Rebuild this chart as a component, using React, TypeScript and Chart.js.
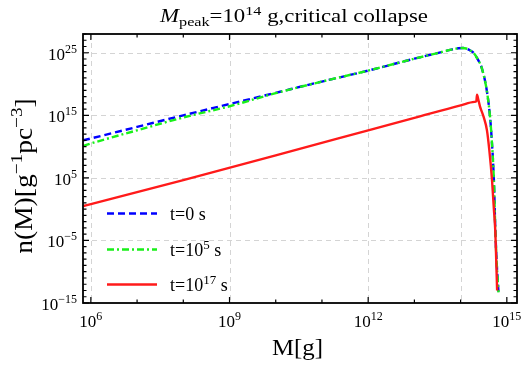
import React, { useEffect, useRef } from "react";
import { Chart, registerables } from "chart.js";

Chart.register(...registerables);

// log10(M[g]) sample positions and log10(n(M)) values
const massExpEarly = [5.83, 6, 7, 8, 9, 10, 11, 12, 13, 13.5, 13.8, 13.95, 14.05, 14.12, 14.2, 14.28, 14.36, 14.46, 14.57, 14.64, 14.67, 14.72, 14.75, 14.78, 14.82];
const nExpT0 = [11.0, 11.3, 13.15, 15.0, 16.8, 18.6, 20.4, 22.15, 24.05, 24.95, 25.5, 25.72, 25.76, 25.68, 25.4, 25.0, 24.1, 22.5, 18.8, 14.5, 11.5, 4.6, -3.0, -8.5, -13.3];
const nExpT5 = [10.1, 10.5, 12.6, 14.66, 16.45, 18.55, 20.4, 22.15, 24.05, 24.95, 25.5, 25.72, 25.76, 25.68, 25.4, 25.0, 24.1, 22.5, 18.8, 14.5, 11.5, 4.6, -3.0, -8.5, -13.3];
const massExpLate = [5.84, 6, 8, 10, 12, 13, 14, 14.3, 14.34, 14.355, 14.38, 14.42, 14.5, 14.57, 14.62, 14.68, 14.72, 14.75, 14.77, 14.79];
const nExpT17 = [0.5, 0.8, 4.65, 8.6, 12.6, 14.6, 16.6, 17.15, 17.25, 18.3, 17.6, 16.4, 14.7, 12.6, 9.5, 4.6, 0.0, -3.4, -8.0, -13.0];

const seriesLabels = ["0", "5", "17"]; // exponents of t in legend
const xTickExps = [6, 9, 12, 15];
const yTickExps = [-15, -5, 5, 15, 25];
const xGridExps = [6, 9, 12, 14];
const yGridExps = [-5, 5, 15, 25];

const X_MIN_EXP = 5.83;
const X_MAX_EXP = 15.22;
const Y_MIN_EXP = -15;
const Y_MAX_EXP = 28;

const SERIF = "'Liberation Serif', 'DejaVu Serif', serif";

type Part = { t: string; sup?: boolean; sub?: boolean; italic?: boolean };

function drawParts(
  ctx: CanvasRenderingContext2D,
  parts: Part[],
  x: number,
  y: number,
  align: "left" | "center" | "right",
  size: number,
  small: number,
  supRaise: number,
  subDrop: number,
  sx: number = 1
) {
  const fontFor = (p: Part) =>
    `${p.italic ? "italic " : ""}${p.sup || p.sub ? small : size}px ${SERIF}`;
  let total = 0;
  const widths = parts.map((p) => {
    ctx.font = fontFor(p);
    const w = ctx.measureText(p.t).width;
    total += w;
    return w;
  });
  ctx.save();
  ctx.translate(x, y);
  ctx.scale(sx, 1);
  let cx = align === "left" ? 0 : align === "center" ? -total / 2 : -total;
  ctx.textAlign = "left";
  ctx.textBaseline = "alphabetic";
  parts.forEach((p, i) => {
    ctx.font = fontFor(p);
    const dy = p.sup ? -supRaise : p.sub ? subDrop : 0;
    ctx.fillText(p.t, cx, dy);
    cx += widths[i];
  });
  ctx.restore();
}

const decoPlugin = {
  id: "deco",
  beforeDatasetsDraw(chart: any) {
    const { ctx, chartArea: a, scales } = chart;
    const xs = scales.x;
    const ys = scales.y;
    ctx.save();
    ctx.strokeStyle = "#d4d4d4";
    ctx.lineWidth = 1;
    ctx.setLineDash([5, 4]);
    xGridExps.forEach((e) => {
      const px = Math.round(xs.getPixelForValue(Math.pow(10, e))) + 0.5;
      ctx.beginPath();
      ctx.moveTo(px, a.top);
      ctx.lineTo(px, a.bottom);
      ctx.stroke();
    });
    yGridExps.forEach((e) => {
      const py = Math.round(ys.getPixelForValue(Math.pow(10, e))) + 0.5;
      ctx.beginPath();
      ctx.moveTo(a.left, py);
      ctx.lineTo(a.right, py);
      ctx.stroke();
    });
    ctx.restore();
  },
  afterDatasetsDraw(chart: any) {
    const { ctx, chartArea: a, scales } = chart;
    const xs = scales.x;
    const ys = scales.y;
    ctx.save();
    ctx.setLineDash([]);
    ctx.strokeStyle = "#000";
    // ticks
    ctx.lineWidth = 1.2;
    for (let e = 6; e <= 15; e++) {
      const px = xs.getPixelForValue(Math.pow(10, e));
      const len = xTickExps.includes(e) ? 6 : 3.5;
      ctx.beginPath();
      ctx.moveTo(px, a.bottom);
      ctx.lineTo(px, a.bottom - len);
      ctx.moveTo(px, a.top);
      ctx.lineTo(px, a.top + len);
      ctx.stroke();
    }
    for (let e = Y_MIN_EXP; e <= Y_MAX_EXP; e++) {
      const py = ys.getPixelForValue(Math.pow(10, e));
      const len = yTickExps.includes(e) ? 6 : 3.5;
      ctx.beginPath();
      ctx.moveTo(a.left, py);
      ctx.lineTo(a.left + len, py);
      ctx.moveTo(a.right, py);
      ctx.lineTo(a.right - len, py);
      ctx.stroke();
    }
    // frame
    ctx.lineWidth = 1.8;
    ctx.strokeRect(a.left, a.top, a.right - a.left, a.bottom - a.top);

    ctx.fillStyle = "#000";
    // x tick labels
    xTickExps.forEach((e) => {
      const px = xs.getPixelForValue(Math.pow(10, e));
      drawParts(ctx, [{ t: "10" }, { t: String(e), sup: true }], px, a.bottom + 24, "center", 17, 12, 7, 0);
    });
    // y tick labels
    yTickExps.forEach((e) => {
      const py = ys.getPixelForValue(Math.pow(10, e));
      const s = e < 0 ? "\u2212" + String(-e) : String(e);
      drawParts(ctx, [{ t: "10" }, { t: s, sup: true }], a.left - 6, py + 7, "right", 17, 12, 7, 0);
    });

    // title
    drawParts(
      ctx,
      [
        { t: "M", italic: true },
        { t: "peak", sub: true },
        { t: "=10" },
        { t: "14", sup: true },
        { t: " g,critical collapse" },
      ],
      294,
      22,
      "center",
      19,
      13.5,
      7,
      4,
      1.2
    );

    // x axis title
    drawParts(ctx, [{ t: "M[g]" }], 297.5, 355, "center", 23, 16, 9, 0, 1.08);

    // y axis title
    ctx.save();
    ctx.translate(32, 176);
    ctx.rotate(-Math.PI / 2);
    drawParts(
      ctx,
      [
        { t: "n(M)[g" },
        { t: "\u22121", sup: true },
        { t: "pc" },
        { t: "\u22123", sup: true },
        { t: "]" },
      ],
      0,
      0,
      "center",
      25,
      17.5,
      10,
      0,
      1.1
    );
    ctx.restore();

    // legend
    const rows = [213.5, 249.5, 284.5];
    chart.data.datasets.forEach((ds: any, i: number) => {
      const y = rows[i];
      ctx.save();
      ctx.strokeStyle = ds.borderColor;
      ctx.lineWidth = ds.borderWidth;
      ctx.setLineDash(ds.borderDash || []);
      ctx.beginPath();
      ctx.moveTo(107, y);
      ctx.lineTo(157, y);
      ctx.stroke();
      ctx.restore();
      const parts: Part[] =
        seriesLabels[i] === "0"
          ? [{ t: "t=0 s" }]
          : [{ t: "t=10" }, { t: seriesLabels[i], sup: true }, { t: " s" }];
      drawParts(ctx, parts, 170, y + 6, "left", 18, 13, 7, 0);
    });
    ctx.restore();
  },
};

function toPoints(xe: number[], ye: number[]) {
  return xe.map((m, i) => ({ x: Math.pow(10, m), y: Math.pow(10, ye[i]) }));
}

export default function App() {
  const ref = useRef<HTMLCanvasElement>(null);
  useEffect(() => {
    if (!ref.current) return;
    const chart = new Chart(ref.current, {
      type: "line",
      data: {
        datasets: [
          {
            label: "t=0 s",
            data: toPoints(massExpEarly, nExpT0),
            borderColor: "#0000ff",
            borderWidth: 2.4,
            borderDash: [7, 4],
            pointRadius: 0,
            cubicInterpolationMode: "monotone",
            order: 3,
          },
          {
            label: "t=10^5 s",
            data: toPoints(massExpEarly, nExpT5),
            borderColor: "#19f019",
            borderWidth: 2.4,
            borderDash: [7, 3, 2, 3],
            pointRadius: 0,
            cubicInterpolationMode: "monotone",
            order: 2,
          },
          {
            label: "t=10^17 s",
            data: toPoints(massExpLate, nExpT17),
            borderColor: "#ff1a1a",
            borderWidth: 2.4,
            pointRadius: 0,
            cubicInterpolationMode: "monotone",
            order: 1,
          },
        ] as any,
      },
      options: {
        responsive: false,
        animation: false,
        devicePixelRatio: 1,
        layout: { padding: { left: 83, right: 9, top: 34, bottom: 68 } },
        plugins: { legend: { display: false }, tooltip: { enabled: false }, title: { display: false } },
        scales: {
          x: {
            type: "logarithmic",
            display: false,
            min: Math.pow(10, X_MIN_EXP),
            max: Math.pow(10, X_MAX_EXP),
          },
          y: {
            type: "logarithmic",
            display: false,
            min: Math.pow(10, Y_MIN_EXP),
            max: Math.pow(10, Y_MAX_EXP),
          },
        },
      } as any,
      plugins: [decoPlugin],
    });
    return () => chart.destroy();
  }, []);
  return (
    <div style={{ position: "absolute", left: 0, top: 0, width: 526, height: 371, background: "#fff" }}>
      <canvas ref={ref} width={526} height={371} style={{ width: 526, height: 371, display: "block" }} />
    </div>
  );
}
